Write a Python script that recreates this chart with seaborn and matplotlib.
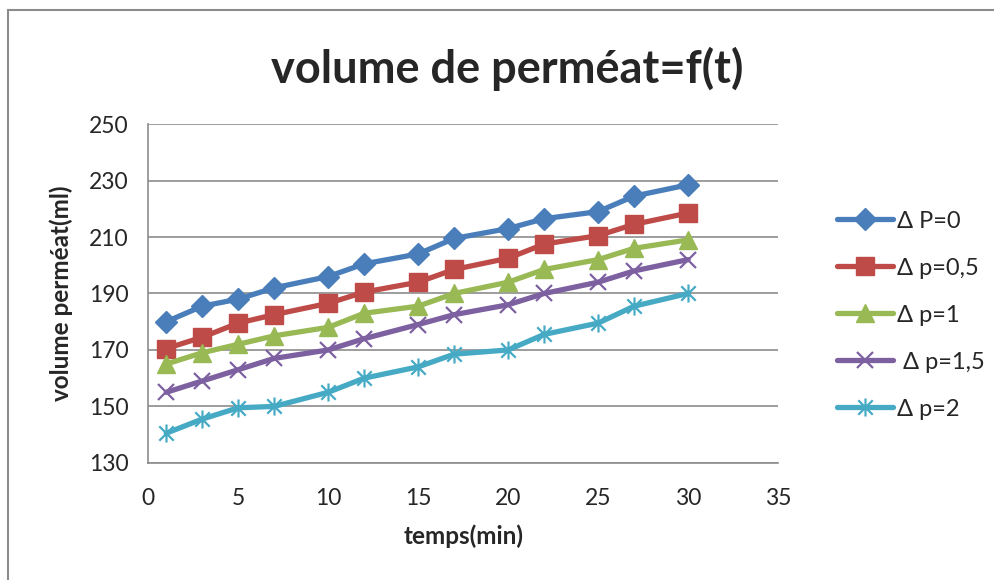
import numpy as np
import pandas as pd
import matplotlib
matplotlib.use("Agg")
import matplotlib.pyplot as plt
from matplotlib.path import Path
from matplotlib.patches import Rectangle
import seaborn as sns

# data
temps = [1, 3, 5, 7, 10, 12, 15, 17, 20, 22, 25, 27, 30]
dp_0 = [180, 185.5, 188, 192, 196, 200.5, 204, 209.5, 213, 216.5, 219, 224.5, 228.5]
dp_05 = [170.5, 174.5, 179.5, 182.5, 186.5, 190.5, 194, 198.5, 202.5, 207.5, 210.5, 214.5, 218.5]
dp_1 = [165, 169, 172, 175, 178, 183, 185.5, 190, 194, 198.5, 202, 206, 209]
dp_15 = [155, 159, 163, 167, 170, 174, 179, 182.5, 186, 190, 194, 198, 202]
dp_2 = [140.5, 145.5, 149.5, 150, 155, 160, 164, 168.5, 170, 175.5, 179.5, 185.5, 190]
labels = ["Δ P=0", "Δ p=0,5", "Δ p=1", " Δ p=1,5", "Δ p=2"]

sns.set_style("white")
plt.rcParams['font.family'] = ['Lato', 'DejaVu Sans']

# excel-like asterisk marker (x plus vertical bar)
star = Path([(0, -1), (0, 1), (-0.8, -0.8), (0.8, 0.8), (-0.8, 0.8), (0.8, -0.8)],
            [Path.MOVETO, Path.LINETO, Path.MOVETO, Path.LINETO, Path.MOVETO, Path.LINETO])

colors = ["#4A7EBB", "#BE4B48", "#98B954", "#7D60A0", "#46AAC5"]
markers = ["D", "s", "^", "x", star]
sizes = [11, 12.5, 12.5, 11, 13]
mews = [1, 1, 1, 1.6, 1.6]

fig = plt.figure(figsize=(9.95, 5.8), dpi=100)
ax = fig.add_axes([0.149, 0.202, 0.633, 0.584])

series = [dp_0, dp_05, dp_1, dp_15, dp_2]
for vals, lab, c, m, s, w in zip(series, labels, colors, markers, sizes, mews):
    sns.lineplot(x=temps, y=vals, ax=ax, color=c, marker=m, ms=s, mec=c, mfc=c,
                 mew=w, lw=3.8, label=lab)

ax.set_xlim(0, 35)
ax.set_ylim(130, 250)
ax.set_xticks(range(0, 36, 5))
ax.set_yticks(range(130, 251, 20))
ax.yaxis.grid(True, color="#8C8C8C", lw=1.2)
ax.set_axisbelow(True)
for side in ["top", "right"]:
    ax.spines[side].set_visible(False)
for side in ["left", "bottom"]:
    ax.spines[side].set_color("#8C8C8C")
    ax.spines[side].set_linewidth(1.2)
ax.tick_params(axis="both", direction="out", length=6, width=1.2, color="#8C8C8C",
               labelsize=16.5)
ax.tick_params(axis="x", pad=12)
ax.tick_params(axis="y", pad=8)

ax.set_xlabel("temps(min)", fontsize=17.5, fontweight="bold", labelpad=11)
ax.set_ylabel("volume perméat(ml)", fontsize=17.5, fontweight="bold", labelpad=12)
fig.text(0.51, 0.882, "volume de perméat=f(t)", ha="center", va="center",
         fontsize=32.5, fontweight="bold")

ax.legend(loc="upper left", bbox_to_anchor=(0.832, 0.653), bbox_transform=fig.transFigure,
          frameon=False, fontsize=17, handlelength=2.35, handletextpad=0.2,
          labelspacing=1.1, borderaxespad=0)

# outer chart border
fig.patches.append(Rectangle((8 / 995, -0.1), 1.2, 1 - 10 / 580 + 0.1,
                             transform=fig.transFigure, fill=False,
                             edgecolor="#8C8C8C", lw=1.5))

fig.savefig("out.png", dpi=100)
